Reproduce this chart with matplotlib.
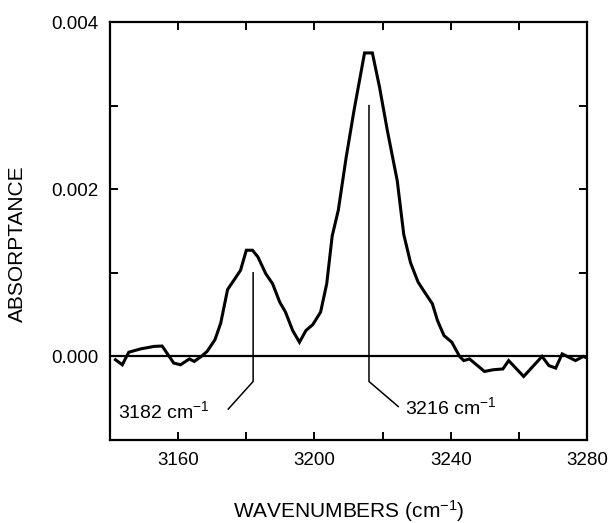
import matplotlib
matplotlib.use("Agg")
import matplotlib.pyplot as plt
from matplotlib.ticker import FixedLocator

plt.rcParams['font.family'] = ['Liberation Sans', 'DejaVu Sans']
plt.rcParams['mathtext.fontset'] = 'custom'
plt.rcParams['mathtext.rm'] = 'Liberation Sans'
plt.rcParams['mathtext.it'] = 'Liberation Sans:italic'
plt.rcParams['mathtext.bf'] = 'Liberation Sans:bold'

wavenumber = [3141.6, 3143.6, 3145.5, 3149.0, 3153.0, 3155.3, 3158.7, 3160.7, 3163.3,
              3164.7, 3166.8, 3168.5, 3170.8, 3172.5, 3174.5, 3176.5, 3178.3, 3180.0,
              3181.8, 3183.4, 3185.7, 3187.7, 3189.8, 3191.5, 3193.6, 3195.6, 3197.5,
              3199.5, 3201.8, 3203.6, 3205.2, 3207.0, 3209.3, 3211.6, 3214.7, 3217.0,
              3219.1, 3221.4, 3224.3, 3226.2, 3228.2, 3230.4, 3232.3, 3234.6, 3236.1,
              3238.0, 3240.3, 3242.6, 3243.8, 3245.5, 3249.9, 3252.4, 3255.3, 3257.0,
              3261.4, 3266.8, 3268.8, 3270.8, 3272.7, 3276.6, 3278.9, 3280.0]
absorptance = [-0.00004, -0.00010, 0.00005, 0.00009, 0.00012, 0.000124, -0.00008, -0.00010,
               -0.00003, -0.00006, 0.0, 0.00006, 0.00020, 0.00040, 0.00080, 0.00092,
               0.00103, 0.00127, 0.00127, 0.00119, 0.00099, 0.00087, 0.00065, 0.00053,
               0.00031, 0.00017, 0.00031, 0.00038, 0.00053, 0.00087, 0.00144, 0.00175,
               0.00238, 0.00294, 0.00363, 0.00363, 0.00322, 0.00270, 0.00210, 0.00146,
               0.00112, 0.00089, 0.00077, 0.00063, 0.00043, 0.00025, 0.00017, 0.0,
               -0.00005, -0.00003, -0.00018, -0.00016, -0.00015, -0.00005, -0.00024,
               0.0, -0.00011, -0.00014, 0.00003, -0.00005, 0.0, -0.00002]

peak_positions = [3182, 3216]
peak_tops = [0.001, 0.003]
peak_labels = ['3182 cm$^{-1}$', '3216 cm$^{-1}$']

x_major = [3160, 3200, 3240, 3280]
x_minor = [3140, 3180, 3220, 3260]
y_major = [0.000, 0.002, 0.004]
y_minor = [-0.001, 0.001, 0.003]

fig = plt.figure(figsize=(6.14, 5.23), dpi=100)
ax = fig.add_axes([0.1792, 0.1587, 0.7769, 0.7992])

ax.plot(wavenumber, absorptance, color='black', lw=2.2, solid_joinstyle='miter')
ax.axhline(0, color='black', lw=1.6)

# annotations
knee = -0.0003
ax.plot([peak_positions[0], peak_positions[0], 3174.7], [peak_tops[0], knee, -0.00063],
        color='black', lw=1.1)
ax.text(3142.3, -0.00074, peak_labels[0], fontsize=14, ha='left', va='baseline')
ax.plot([peak_positions[1], peak_positions[1], 3224.6], [peak_tops[1], knee, -0.0006],
        color='black', lw=1.1)
ax.text(3226.7, -0.00069, peak_labels[1], fontsize=14, ha='left', va='baseline')

ax.set_xlim(3140, 3280)
ax.set_ylim(-0.001, 0.004)
ax.xaxis.set_major_locator(FixedLocator(x_major))
ax.xaxis.set_minor_locator(FixedLocator(x_minor))
ax.yaxis.set_major_locator(FixedLocator(y_major))
ax.yaxis.set_minor_locator(FixedLocator(y_minor))
ax.set_xticklabels([str(v) for v in x_major])
ax.set_yticklabels(['%.3f' % v for v in y_major])

for which in ('major', 'minor'):
    ax.tick_params(axis='both', which=which, direction='in', length=6, width=1.4,
                   top=True, right=True, labelsize=13.5, pad=8.5, colors='black')

for s in ax.spines.values():
    s.set_linewidth(1.6)

fig.text(348.5 / 614, 1 - 518 / 523, 'WAVENUMBERS (cm$^{-1}$)', fontsize=15,
         ha='center', va='baseline')
ax.set_ylabel('ABSORPTANCE', fontsize=15)
ax.yaxis.set_label_coords(-0.175, 0.47)

fig.savefig('out.png', dpi=100)
